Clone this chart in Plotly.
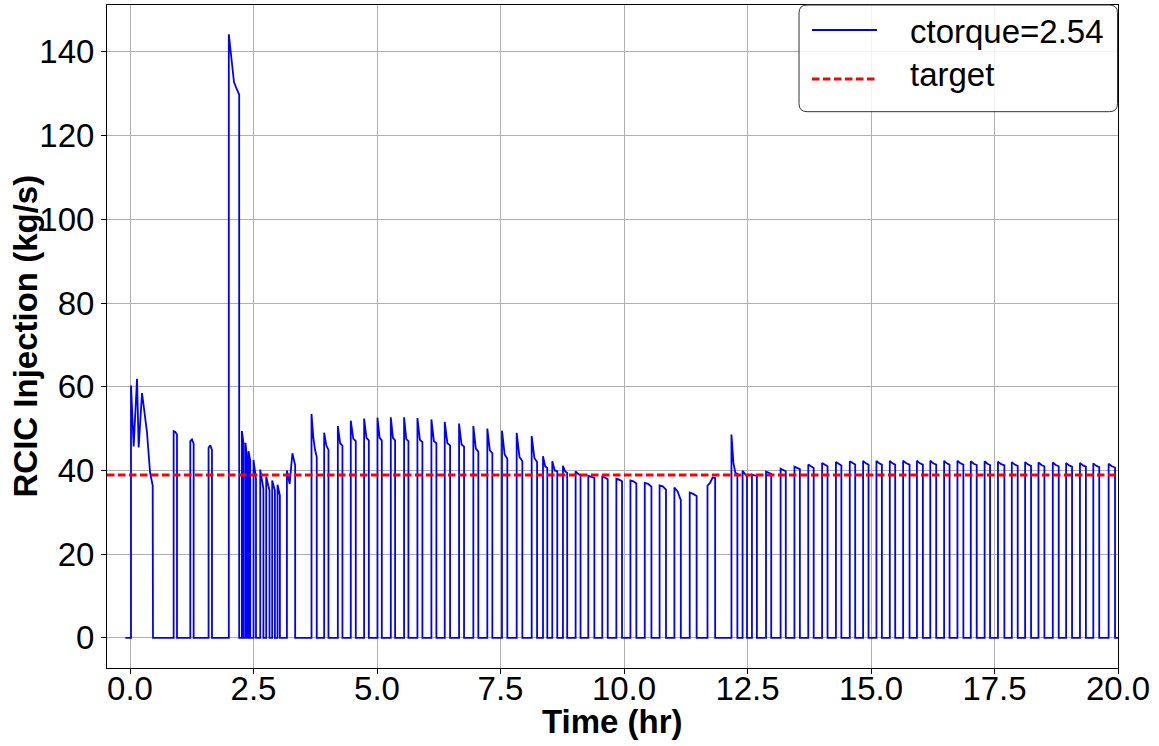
import plotly.graph_objects as go

# Flow set-point and time window (hr)
TARGET_FLOW = 38.9
T_START = -0.094
T_END = 20.0

# Start-up burst: RCIC comes on and oscillates before the first trip
startup_hr = [0.02, 0.02, 0.074, 0.142, 0.175, 0.243, 0.283, 0.344, 0.364, 0.405, 0.459, 0.465]
startup_q = [0.0, 60.3, 45.7, 61.9, 45.5, 58.5, 55.1, 49.1, 45.9, 39.6, 36.4, 0.0]

# Injection cycles: turn-on time, trip time (hr) and flow levels during each cycle (kg/s)
pulse_on = [
    0.883, 1.22, 1.59, 2.0, 2.265, 2.338, 2.399, 2.50, 2.636, 2.757, 2.878, 2.986, 3.176,
    3.674, 3.93, 4.207, 4.469, 4.739, 5.009, 5.279, 5.548, 5.818, 6.101, 6.371, 6.661,
    6.950, 7.233, 7.530, 7.827, 8.131, 8.36, 8.548, 8.764, 9.02, 9.277, 9.56, 9.845,
    10.13, 10.42, 10.72, 11.02, 11.33, 11.69, 12.175, 12.40, 12.59, 12.875, 13.17, 13.45,
    13.73, 14.01, 14.29, 14.57, 14.84, 15.11, 15.38, 15.65, 15.93, 16.20, 16.48, 16.75,
    17.02, 17.30, 17.57, 17.85, 18.12, 18.39, 18.68, 18.95, 19.23, 19.50, 19.81,
]
pulse_off = [
    0.951, 1.288, 1.659, 2.21, 2.297, 2.365, 2.433, 2.55, 2.70, 2.824, 2.933, 3.034, 3.343,
    3.78, 4.017, 4.30, 4.570, 4.834, 5.097, 5.366, 5.636, 5.919, 6.202, 6.479, 6.762,
    7.051, 7.335, 7.638, 7.942, 8.240, 8.447, 8.649, 8.85, 9.12, 9.40, 9.67, 9.96,
    10.25, 10.555, 10.85, 11.15, 11.47, 11.845, 12.295, 12.49, 12.69, 12.98, 13.275, 13.56,
    13.84, 14.12, 14.40, 14.68, 14.95, 15.22, 15.49, 15.78, 16.05, 16.32, 16.59, 16.87,
    17.14, 17.41, 17.70, 17.97, 18.24, 18.51, 18.80, 19.07, 19.35, 19.62, 19.94,
]
pulse_levels = [
    [49.4, 49.2, 48.6], [47.0, 47.4, 46.4], [45.4, 46.0, 44.9],
    [144.2, 137.9, 132.8, 131.2, 129.8],
    [49.4, 46.5], [46.6, 43.2], [44.6, 42.4], [42.5, 40.0, 38.0], [40.2, 37.5, 35.6],
    [38.5, 36.5, 35.2], [37.6, 36.0, 35.2], [36.6, 35.0, 34.0], [40.0, 36.8, 44.1, 41.2],
    [53.5, 48.0, 45.0, 43.2], [49.0, 46.0, 44.9], [50.6, 46.5, 45.9], [51.9, 47.6, 47.0],
    [52.4, 47.8, 47.2], [52.6, 47.8, 47.2], [52.7, 47.8, 47.2], [52.7, 47.5, 47.0],
    [52.5, 47.3, 46.8], [52.2, 47.0, 46.5], [51.6, 46.5, 46.0], [51.2, 46.2, 45.7],
    [50.6, 45.2, 44.5], [50.0, 44.8, 44.1], [49.5, 43.8, 42.8], [49.0, 43.2, 42.2],
    [48.2, 43.0, 42.0], [43.4, 41.0, 40.6], [42.2, 40.0, 39.8], [41.1, 39.8, 39.4],
    [39.8, 39.2, 38.8], [38.7, 38.5, 38.2], [38.5, 38.3, 37.9], [38.0, 37.8, 37.4],
    [37.6, 37.4, 36.9], [37.0, 36.8, 36.1], [36.4, 36.2, 35.4], [35.9, 35.0, 32.9],
    [34.7, 34.4, 33.9], [36.4, 37.0, 38.3, 38.2], [48.6, 41.8, 39.4, 39.2],
    [39.9, 39.2, 38.7], [39.0, 38.9, 38.7], [39.7, 39.4, 39.2], [40.4, 40.0, 39.8],
    [40.9, 40.5, 40.3], [41.4, 41.0, 40.6], [41.8, 41.3, 41.0], [42.0, 41.5, 41.2],
    [42.2, 41.7, 41.4], [42.3, 41.7, 41.4], [42.3, 41.7, 41.4], [42.3, 41.7, 41.4],
    [42.3, 41.7, 41.4], [42.3, 41.7, 41.4], [42.3, 41.7, 41.4], [42.3, 41.7, 41.4],
    [42.3, 41.7, 41.4], [42.2, 41.6, 41.3], [42.2, 41.6, 41.3], [42.1, 41.5, 41.2],
    [42.0, 41.4, 41.1], [42.0, 41.4, 41.1], [41.9, 41.3, 41.0], [41.9, 41.3, 41.0],
    [41.8, 41.2, 40.9], [41.8, 41.2, 40.9], [41.7, 41.1, 40.8], [41.6, 41.0, 40.7],
]

x_ticks = [0.0, 2.5, 5.0, 7.5, 10.0, 12.5, 15.0, 17.5, 20.0]
y_ticks = [0, 20, 40, 60, 80, 100, 120, 140]
X_RANGE = [-0.466, 20.0]
Y_RANGE = [-7.2, 151.2]

SERIES_NAME = "ctorque=2.54"
TARGET_NAME = "target"
BLUE = "#0000ff"
RED = "#ff0000"
TARGET_DASH = "7.5px,3.5px"

# Assemble the step-wise flow history from the cycle table
time_hr = [T_START]
flow = [0.0]
time_hr += startup_hr
flow += startup_q
for t_on, t_off, levels in zip(pulse_on, pulse_off, pulse_levels):
    n = len(levels)
    time_hr.append(t_on)
    flow.append(0.0)
    for i, v in enumerate(levels):
        time_hr.append(t_on + (t_off - t_on) * i / (n - 1))
        flow.append(v)
    time_hr.append(t_off)
    flow.append(0.0)
time_hr.append(T_END)
flow.append(0.0)

FONT = "Liberation Sans, Arial, sans-serif"
FS = 33

fig = go.Figure()
fig.add_trace(go.Scatter(
    x=time_hr, y=flow, mode="lines", name=SERIES_NAME, showlegend=False,
    line=dict(color=BLUE, width=1.8),
))
fig.add_trace(go.Scatter(
    x=X_RANGE, y=[TARGET_FLOW, TARGET_FLOW], mode="lines", name=TARGET_NAME, showlegend=False,
    line=dict(color=RED, width=3, dash=TARGET_DASH),
))

axis_common = dict(
    showgrid=True, gridcolor="#b0b0b0", gridwidth=1,
    showline=True, linecolor="black", linewidth=1, mirror=True,
    ticks="outside", ticklen=5, tickcolor="black", tickwidth=1,
    zeroline=False, tickfont=dict(family=FONT, size=FS, color="black"),
)

# Legend box drawn in plot-area (paper) coordinates with rounded corners
lx0, lx1, ly0, ly1 = 0.6845, 0.9995, 0.8391, 1.0
rx, ry = 0.008, 0.012
legend_path = (
    f"M{lx0 + rx},{ly1} L{lx1 - rx},{ly1} Q{lx1},{ly1} {lx1},{ly1 - ry} "
    f"L{lx1},{ly0 + ry} Q{lx1},{ly0} {lx1 - rx},{ly0} "
    f"L{lx0 + rx},{ly0} Q{lx0},{ly0} {lx0},{ly0 + ry} "
    f"L{lx0},{ly1 - ry} Q{lx0},{ly1} {lx0 + rx},{ly1} Z"
)
shapes = [
    dict(type="path", xref="paper", yref="paper", path=legend_path,
         fillcolor="rgba(255,255,255,0.85)", line=dict(color="#333333", width=1), layer="above"),
    dict(type="line", xref="paper", yref="paper", x0=0.6973, x1=0.7616, y0=0.9623, y1=0.9623,
         line=dict(color=BLUE, width=1.8), layer="above"),
    dict(type="line", xref="paper", yref="paper", x0=0.6973, x1=0.7616, y0=0.8884, y1=0.8884,
         line=dict(color=RED, width=3, dash=TARGET_DASH), layer="above"),
]
annotations = [
    dict(text=SERIES_NAME, xref="paper", yref="paper", x=0.7923, y=0.9600,
         xanchor="left", yanchor="middle", showarrow=False,
         font=dict(family=FONT, size=FS, color="black")),
    dict(text=TARGET_NAME, xref="paper", yref="paper", x=0.7923, y=0.8952,
         xanchor="left", yanchor="middle", showarrow=False,
         font=dict(family=FONT, size=FS, color="black")),
    dict(text="<b>Time (hr)</b>", xref="paper", yref="paper", x=0.5, y=-0.0800,
         xanchor="center", yanchor="middle", showarrow=False,
         font=dict(family=FONT, size=FS, color="black")),
    dict(text="<b>RCIC Injection (kg/s)</b>", xref="paper", yref="paper", x=-0.0811, y=0.5,
         xanchor="center", yanchor="middle", showarrow=False, textangle=-90,
         font=dict(family=FONT, size=FS, color="black")),
]

fig.update_layout(
    width=1159, height=746,
    margin=dict(l=107, r=41, t=5, b=78),
    plot_bgcolor="white", paper_bgcolor="white",
    font=dict(family=FONT, size=FS, color="black"),
    xaxis=dict(
        range=X_RANGE, tickvals=x_ticks, ticktext=[f"{v:.1f}" for v in x_ticks],
        ticklabelstandoff=-14, **axis_common,
    ),
    yaxis=dict(
        range=Y_RANGE, tickvals=y_ticks, ticktext=[str(v) for v in y_ticks],
        **axis_common,
    ),
    shapes=shapes,
    annotations=annotations,
    showlegend=False,
)

fig.write_html("out.html")
